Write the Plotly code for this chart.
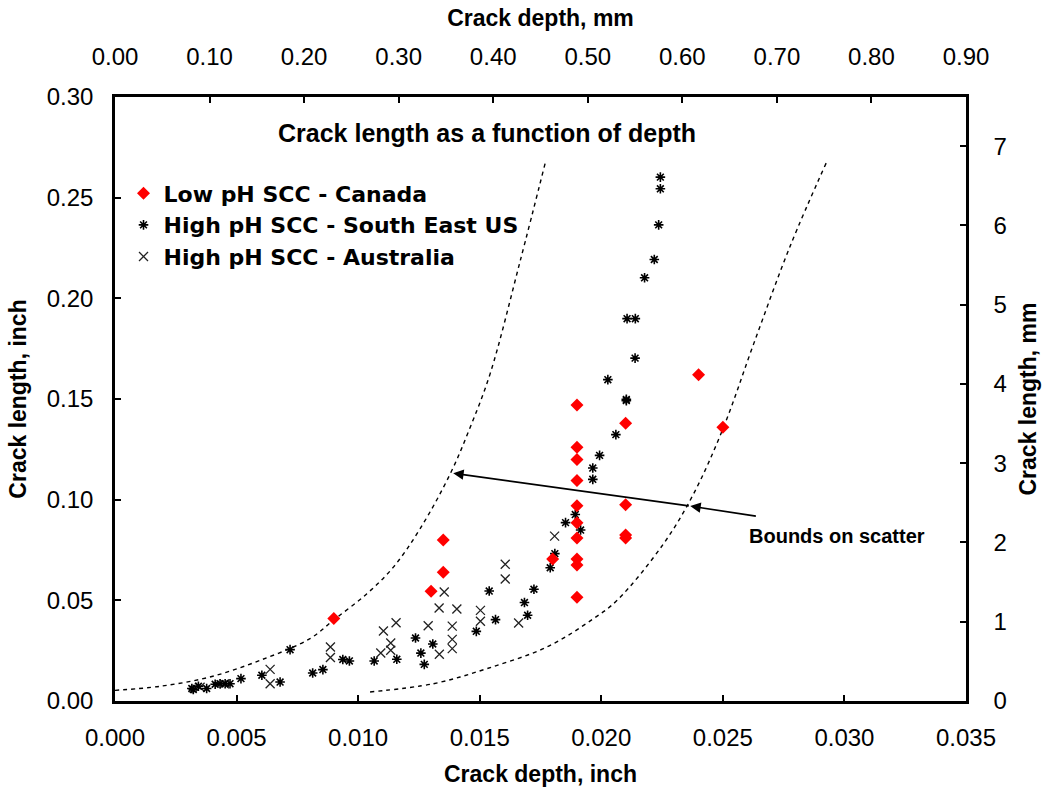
import plotly.graph_objects as go

# ---------------- data (inch) ----------------
can_x = [0.0090, 0.0130, 0.0135, 0.0135, 0.0180,
         0.0190, 0.0190, 0.0190, 0.0190, 0.0190, 0.0190, 0.0190, 0.0190, 0.0190, 0.0190,
         0.0210, 0.0210, 0.0210, 0.0210, 0.0240, 0.0250]
can_y = [0.041, 0.0545, 0.064, 0.080, 0.0705,
         0.147, 0.126, 0.120, 0.1095, 0.097, 0.0885, 0.081, 0.0705, 0.0675, 0.0515,
         0.138, 0.0975, 0.0825, 0.081, 0.162, 0.136]

seus_x = [0.00316, 0.00322, 0.00343, 0.00377, 0.00412, 0.00432, 0.00453, 0.00473, 0.00518,
          0.00604, 0.00679, 0.00720, 0.00813, 0.00855, 0.00937, 0.00964, 0.01066, 0.01159,
          0.01236, 0.01258, 0.01272, 0.01307, 0.01486, 0.01539, 0.01565, 0.01684, 0.01697,
          0.01723, 0.01790, 0.01809, 0.01853, 0.01893, 0.01915, 0.01965, 0.01965, 0.01993,
          0.02060, 0.02103, 0.02103, 0.02027, 0.02139, 0.02106, 0.02140, 0.02178, 0.02218,
          0.02236, 0.02243, 0.02243]
seus_y = [0.0062, 0.0057, 0.0073, 0.0062, 0.0083, 0.0086, 0.0086, 0.0086, 0.0111,
          0.0128, 0.0094, 0.0255, 0.0139, 0.0156, 0.0206, 0.0199, 0.0199, 0.0207,
          0.0313, 0.0238, 0.0182, 0.0283, 0.0346, 0.0546, 0.0404, 0.0489, 0.0426,
          0.0555, 0.0662, 0.0732, 0.0886, 0.0926, 0.0849, 0.1101, 0.1157, 0.1220,
          0.1323, 0.1498, 0.1492, 0.1596, 0.1703, 0.1899, 0.1899, 0.2102, 0.2193,
          0.2365, 0.2544, 0.2602]

aus_x = [0.0035, 0.0045, 0.00638, 0.00638, 0.00886, 0.00886, 0.01093, 0.01104, 0.01134,
         0.01134, 0.01156, 0.01288, 0.01334, 0.01333, 0.01354, 0.01387, 0.01387, 0.01387,
         0.01406, 0.01503, 0.01503, 0.01605, 0.01605, 0.01660, 0.01808]
aus_y = [0.0068, 0.0085, 0.0157, 0.0086, 0.0268, 0.0216, 0.0238, 0.0348, 0.0288,
         0.0252, 0.0389, 0.0374, 0.0232, 0.0462, 0.0541, 0.0372, 0.0306, 0.0260,
         0.0457, 0.0450, 0.0396, 0.0679, 0.0606, 0.0387, 0.0819]

# bounds on scatter
upper_x = [0.0, 0.00185, 0.0039, 0.00597, 0.00802, 0.00898, 0.01036, 0.01145, 0.01255,
           0.01379, 0.01461, 0.01543, 0.01667, 0.0177]
upper_y = [0.0053, 0.0073, 0.0119, 0.0202, 0.0310, 0.0401, 0.0533, 0.0665, 0.0856,
           0.1129, 0.1360, 0.1626, 0.2188, 0.2675]
lower_x = [0.01049, 0.0131, 0.0153, 0.01776, 0.01968, 0.02065, 0.02256, 0.0238, 0.02503,
           0.02627, 0.02778, 0.02926]
lower_y = [0.0045, 0.0086, 0.0161, 0.0268, 0.0409, 0.0500, 0.0781, 0.1030, 0.1360,
           0.1775, 0.2263, 0.2675]

x_ticks_in = [0.000, 0.005, 0.010, 0.015, 0.020, 0.025, 0.030, 0.035]
y_ticks_in = [0.00, 0.05, 0.10, 0.15, 0.20, 0.25, 0.30]
x_ticks_mm = [0.00, 0.10, 0.20, 0.30, 0.40, 0.50, 0.60, 0.70, 0.80, 0.90]
y_ticks_mm = [0, 1, 2, 3, 4, 5, 6, 7]

FONT = "Liberation Sans"
LFONT = "DejaVu Sans"

fig = go.Figure()

fig.add_trace(go.Scatter(x=upper_x, y=upper_y, mode="lines", line=dict(color="black", width=1.4, dash="4px,4px", shape="spline"),
                         showlegend=False, hoverinfo="skip"))
fig.add_trace(go.Scatter(x=lower_x, y=lower_y, mode="lines", line=dict(color="black", width=1.4, dash="4px,4px", shape="spline"),
                         showlegend=False, hoverinfo="skip"))

fig.add_trace(go.Scatter(x=aus_x, y=aus_y, mode="markers", name="High pH SCC - Australia", legendrank=3,
                         legendgroup="c",
                         marker=dict(symbol="x-thin-open", size=9, color="#222222", line=dict(color="#222222", width=1.3))))
fig.add_trace(go.Scatter(x=seus_x, y=seus_y, mode="markers", name="High pH SCC - South East US", legendrank=2,
                         legendgroup="b",
                         marker=dict(symbol="asterisk-open", size=8, color="black", line=dict(color="black", width=1.6))))
fig.add_trace(go.Scatter(x=can_x, y=can_y, mode="markers", name="Low pH SCC - Canada", legendrank=1,
                         legendgroup="a",
                         marker=dict(symbol="diamond", size=10, color="#FF0000", line=dict(width=0))))

# secondary axes (mm)
fig.add_trace(go.Scatter(x=[], y=[], xaxis="x2", yaxis="y2", showlegend=False, hoverinfo="skip"))

axis_common = dict(showline=True, linecolor="black", linewidth=2.5, ticks="inside", ticklen=6,
                   tickwidth=2, tickcolor="black", showgrid=False, zeroline=False, automargin=False,
                   tickfont=dict(family=FONT, size=24, color="black"))

fig.update_layout(
    width=1042, height=787,
    margin=dict(l=115, r=76, t=97, b=86),
    paper_bgcolor="white", plot_bgcolor="white",
    xaxis=dict(range=[0, 0.035], tickvals=x_ticks_in, tickformat=".3f", ticklabelstandoff=13,
               title=dict(text="Crack depth, inch", font=dict(family=FONT, size=23, color="black", weight="bold"),
                          standoff=18),
               **axis_common),
    yaxis=dict(range=[0, 0.30], tickvals=y_ticks_in, tickformat=".2f", ticklabelstandoff=14,
               title=dict(text="Crack length, inch", font=dict(family=FONT, size=23, color="black", weight="bold"),
                          standoff=14),
               **axis_common),
    xaxis2=dict(range=[0, 0.9], tickvals=x_ticks_mm, tickformat=".2f", overlaying="x", side="top",
                ticklabelstandoff=20,
                title=dict(text="Crack depth, mm", font=dict(family=FONT, size=23, color="black", weight="bold"),
                           standoff=10),
                **axis_common),
    yaxis2=dict(range=[0, 7.62], tickvals=y_ticks_mm, overlaying="y", side="right",
                ticktext=["\u00a0\u00a0\u00a0" + str(v) for v in y_ticks_mm],
                title=dict(text="Crack length, mm", font=dict(family=FONT, size=23, color="black", weight="bold"),
                           standoff=14),
                **axis_common),
    legend=dict(x=0.01, y=0.875, xanchor="left", yanchor="top", bgcolor="rgba(0,0,0,0)",
                font=dict(family=LFONT, size=22, color="black", weight="bold"),
                traceorder="grouped", tracegroupgap=0, itemwidth=30),
    showlegend=True,
)

fig.add_annotation(text="Crack length as a function of depth", xref="paper", yref="paper",
                   x=0.437, y=0.94, xanchor="center", yanchor="middle", showarrow=False,
                   font=dict(family=FONT, size=25, color="black", weight="bold"))

# arrows
fig.add_annotation(x=0.01391, y=0.1131, ax=0.02366, ay=0.0968, xref="x", yref="y", axref="x", ayref="y",
                   text="", showarrow=True, arrowhead=2, arrowsize=1.3, arrowwidth=1.6, arrowcolor="black")
fig.add_annotation(x=0.02366, y=0.0968, ax=0.02642, ay=0.0917, xref="x", yref="y", axref="x", ayref="y",
                   text="", showarrow=True, arrowhead=2, arrowsize=1.3, arrowwidth=1.6, arrowcolor="black")
fig.add_annotation(text="Bounds on scatter", x=0.0297, y=0.0822, xref="x", yref="y", showarrow=False,
                   xanchor="center", yanchor="middle",
                   font=dict(family=FONT, size=20, color="black", weight="bold"))

fig.write_html("out.html")
